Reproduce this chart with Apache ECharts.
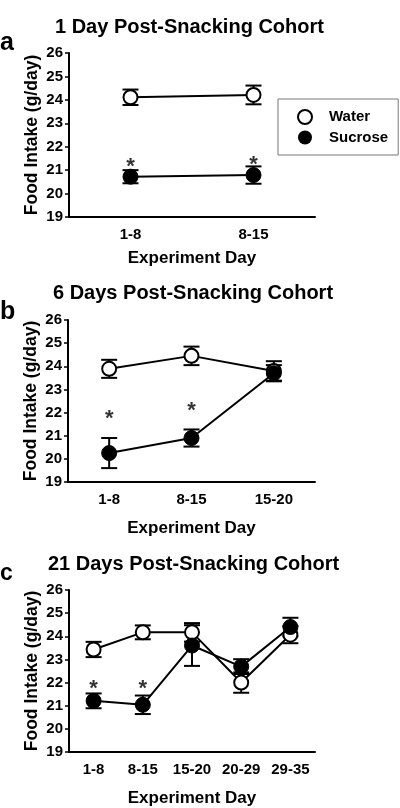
<!DOCTYPE html>
<html><head><meta charset="utf-8">
<script src="https://cdn.jsdelivr.net/npm/echarts@6/dist/echarts.min.js"></script>
<style>html,body{margin:0;padding:0;background:#fff}#c{width:400px;height:808px}</style>
</head><body><div id="c"></div>
<script>
// ---- data ----
const catsA = ['1-8', '8-15'];
const catsB = ['1-8', '8-15', '15-20'];
const catsC = ['1-8', '8-15', '15-20', '20-29', '29-35'];
const yTicks = [19, 20, 21, 22, 23, 24, 25, 26];

const waterA = [24.11, 24.21];
const waterSemA = [0.33, 0.40];
const sucroseA = [20.72, 20.79];
const sucroseSemA = [0.28, 0.37];
const starA = [21.28, 21.36];

const waterB = [23.89, 24.45, 23.80];
const waterSemB = [0.39, 0.40, 0.42];
const sucroseB = [20.25, 20.90, 23.70];
const sucroseSemB = [0.65, 0.37, 0.35];
const starB = [21.85, 22.20];

const waterC = [23.43, 24.17, 24.17, 22.00, 24.07];
const waterSemC = [0.33, 0.30, 0.40, 0.44, 0.37];
const sucroseC = [21.21, 21.04, 23.60, 22.69, 24.40];
const sucroseSemC = [0.32, 0.40, 0.88, 0.32, 0.40];
const starC = [21.85, 21.85];

const titles = ['1 Day Post-Snacking Cohort', '6 Days Post-Snacking Cohort', '21 Days Post-Snacking Cohort'];
const letters = ['a', 'b', 'c'];

// ---- chart ----
const FONT = '"Liberation Sans", Arial, sans-serif';
const chart = echarts.init(document.getElementById('c'), null, {renderer: 'canvas'});

const grids = [
  {left: 69, top: 53, width: 246, height: 164},
  {left: 68, top: 320, width: 247, height: 162},
  {left: 69, top: 590, width: 246, height: 163}
];
const catsAll = [catsA, catsB, catsC];

function errRender(params, api) {
  const x = api.value(0), m = api.value(1), s = api.value(2);
  const t = api.coord([x, m + s]), b = api.coord([x, m - s]);
  const hw = 8;
  const st = {stroke: '#000', lineWidth: 2};
  return {type: 'group', children: [
    {type: 'line', shape: {x1: t[0], y1: t[1], x2: b[0], y2: b[1]}, style: st},
    {type: 'line', shape: {x1: t[0] - hw, y1: t[1], x2: t[0] + hw, y2: t[1]}, style: st},
    {type: 'line', shape: {x1: b[0] - hw, y1: b[1], x2: b[0] + hw, y2: b[1]}, style: st}
  ]};
}

const xAxes = [], yAxes = [], series = [];
catsAll.forEach((cats, i) => {
  xAxes.push({
    type: 'category', gridIndex: i, data: cats, boundaryGap: true,
    name: 'Experiment Day', nameLocation: 'middle', nameGap: [33, 38, 38][i], nameMoveOverlap: false,
    nameTextStyle: {fontFamily: FONT, fontWeight: 'bold', fontSize: 17, color: '#000'},
    axisLine: {lineStyle: {color: '#000', width: 2}},
    axisTick: {alignWithLabel: true, length: 4, lineStyle: {color: '#000', width: 1.5}},
    axisLabel: {interval: 0, hideOverlap: false, fontFamily: FONT, fontWeight: 'bold', fontSize: 15, color: '#000', margin: 10},
    splitLine: {show: false}
  });
  yAxes.push({
    type: 'value', gridIndex: i, min: 19, max: 26, interval: 1,
    name: 'Food Intake (g/day)', nameLocation: 'middle', nameGap: 28, nameMoveOverlap: false,
    nameTextStyle: {fontFamily: FONT, fontWeight: 'bold', fontSize: 17.5, color: '#000'},
    axisLine: {show: true, lineStyle: {color: '#000', width: 2}},
    axisTick: {show: true, length: 4, lineStyle: {color: '#000', width: 1.5}},
    axisLabel: {fontFamily: FONT, fontWeight: 'bold', fontSize: 15, color: '#000', margin: 6,
      formatter: v => yTicks.includes(v) ? String(v) : ''},
    splitLine: {show: false}
  });
});

const panels = [
  [waterA, waterSemA, sucroseA, sucroseSemA, starA],
  [waterB, waterSemB, sucroseB, sucroseSemB, starB],
  [waterC, waterSemC, sucroseC, sucroseSemC, starC]
];

panels.forEach((p, i) => {
  const [w, ws, s, ss, star] = p;
  series.push({
    type: 'custom', xAxisIndex: i, yAxisIndex: i, renderItem: errRender, z: 2,
    data: w.map((v, k) => [k, v, ws[k]]), silent: true
  });
  series.push({
    type: 'custom', xAxisIndex: i, yAxisIndex: i, renderItem: errRender, z: 2,
    data: s.map((v, k) => [k, v, ss[k]]), silent: true
  });
  series.push({
    name: 'Water', type: 'line', xAxisIndex: i, yAxisIndex: i, data: w, z: 3,
    symbol: 'circle', symbolSize: 14, showAllSymbol: true,
    lineStyle: {color: '#000', width: 2},
    itemStyle: {color: '#fff', borderColor: '#000', borderWidth: 2}
  });
  series.push({
    name: 'Sucrose', type: 'line', xAxisIndex: i, yAxisIndex: i, data: s, z: 4,
    symbol: 'circle', symbolSize: 15, showAllSymbol: true,
    lineStyle: {color: '#000', width: 2},
    itemStyle: {color: '#000', borderColor: '#000', borderWidth: 1}
  });
  series.push({
    type: 'scatter', xAxisIndex: i, yAxisIndex: i, data: star, z: 5, silent: true,
    symbolSize: 1, itemStyle: {color: 'rgba(0,0,0,0)'},
    label: {show: true, position: 'inside', formatter: '*', offset: [0, 3],
      fontFamily: FONT, fontWeight: 'bold', fontSize: 22, color: '#000'}
  });
});

const titleTops = [17, 283, 554];
const titleLefts = [55, 53, 48];
const letterY = [43, 312, 574];

const option = {
  backgroundColor: '#fff',
  animation: false,
  title: titles.map((t, i) => ({
    text: t, left: titleLefts[i], top: titleTops[i], padding: 0,
    textStyle: {fontFamily: FONT, fontWeight: 'bold', fontSize: 20, color: '#000'}
  })),
  graphic: letters.map((l, i) => ({
    type: 'text', x: 0, y: letterY[i],
    style: {text: l, fontFamily: FONT, fontWeight: 'bold', fontSize: i === 2 ? 23 : 25,
      fill: '#000', verticalAlign: 'middle', align: 'left'}
  })),
  legend: {
    orient: 'vertical', left: 278, top: 99,
    padding: [10, 10, 10, 19],
    itemGap: 5, itemWidth: 14, itemHeight: 14,
    borderColor: '#777', borderWidth: 1,
    textStyle: {fontFamily: FONT, fontWeight: 'bold', fontSize: 15, color: '#000', padding: [0, 0, 0, 12]},
    data: [
      {name: 'Water', icon: 'circle', itemStyle: {color: '#fff', borderColor: '#000', borderWidth: 2}},
      {name: 'Sucrose', icon: 'circle', itemStyle: {color: '#000', borderColor: '#000', borderWidth: 0}}
    ]
  },
  grid: grids.map(g => Object.assign({containLabel: false}, g)),
  xAxis: xAxes,
  yAxis: yAxes,
  series: series
};
chart.setOption(option);
</script>
</body></html>
